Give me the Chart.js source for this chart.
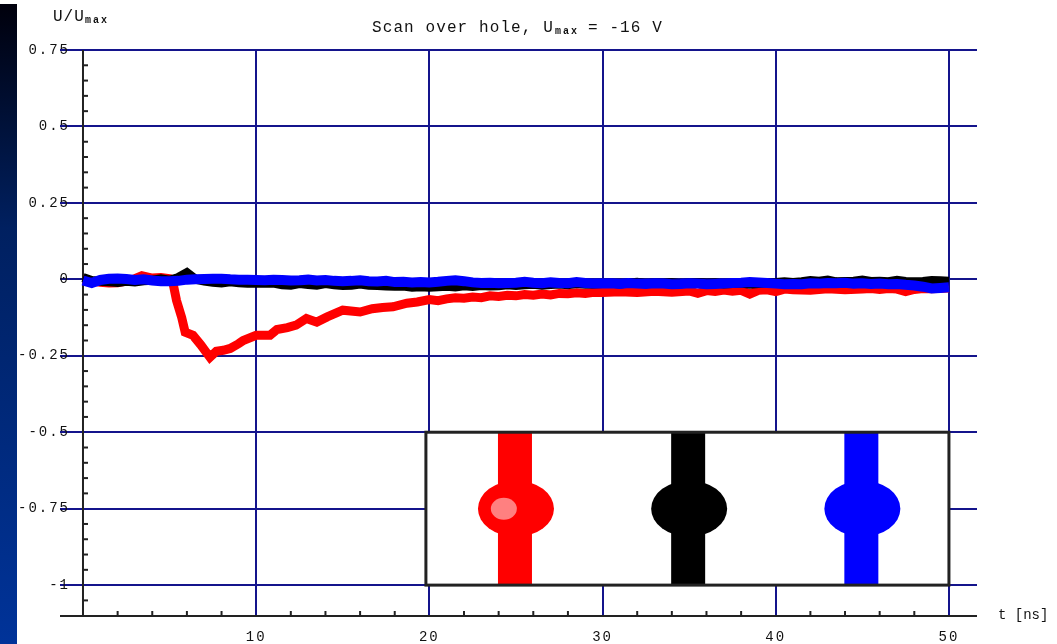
<!DOCTYPE html>
<html>
<head>
<meta charset="utf-8">
<title>Scan over hole</title>
<script src="https://cdn.jsdelivr.net/npm/chart.js@4"></script>
<style>
  html, body { margin: 0; padding: 0; background: #fff; overflow: hidden; }
  #stripe { position: absolute; left: 0; top: 4px; width: 17px; height: 640px;
    background: linear-gradient(#00000c, #002060 35%, #003399 100%); }
  canvas { position: absolute; left: 0; top: 0; filter: blur(0.5px); }
</style>
</head>
<body>
<canvas id="scan" width="1057" height="644"></canvas>
<div id="stripe"></div>
<script>
// values
const timeNs = [0,0.5,1,1.5,2,2.5,3,3.5,4,4.5,5,5.5,6,6.5,7,7.5,8,8.5,9,9.5,10,10.5,11,11.5,12,12.5,13,13.5,14,14.5,15,15.5,16,16.5,17,17.5,18,18.5,19,19.5,20,20.5,21,21.5,22,22.5,23,23.5,24,24.5,25,25.5,26,26.5,27,27.5,28,28.5,29,29.5,30,30.5,31,31.5,32,32.5,33,33.5,34,34.5,35,35.5,36,36.5,37,37.5,38,38.5,39,39.5,40,40.5,41,41.5,42,42.5,43,43.5,44,44.5,45,45.5,46,46.5,47,47.5,48,48.5,49,49.5,50];

const blackU = [0.006,-0.004,-0.006,-0.008,-0.010,-0.006,-0.009,-0.005,-0.003,0.002,-0.003,0.006,0.022,0.000,-0.006,-0.010,-0.012,-0.008,-0.011,-0.013,-0.012,-0.013,-0.012,-0.018,-0.019,-0.014,-0.017,-0.019,-0.014,-0.018,-0.020,-0.019,-0.015,-0.019,-0.020,-0.022,-0.023,-0.022,-0.026,-0.024,-0.026,-0.024,-0.023,-0.025,-0.021,-0.023,-0.020,-0.022,-0.021,-0.018,-0.020,-0.018,-0.016,-0.019,-0.017,-0.015,-0.018,-0.014,-0.016,-0.015,-0.014,-0.013,-0.015,-0.012,-0.010,-0.014,-0.012,-0.013,-0.011,-0.014,-0.012,-0.010,-0.013,-0.012,-0.015,-0.014,-0.012,-0.016,-0.014,-0.011,-0.010,-0.008,-0.010,-0.008,-0.004,-0.006,-0.002,-0.008,-0.007,-0.006,-0.002,-0.007,-0.006,-0.008,-0.003,-0.007,-0.008,-0.007,-0.004,-0.005,-0.006];

const blueU = [-0.004,-0.012,-0.002,0.002,0.003,0.001,-0.002,0.000,-0.004,-0.006,-0.006,-0.005,-0.001,0.000,0.001,0.002,0.002,0.000,-0.001,-0.001,-0.002,-0.003,-0.001,-0.002,-0.004,-0.003,-0.001,-0.004,-0.002,-0.005,-0.006,-0.005,-0.003,-0.006,-0.007,-0.005,-0.009,-0.008,-0.010,-0.009,-0.010,-0.008,-0.005,-0.003,-0.006,-0.010,-0.012,-0.011,-0.013,-0.012,-0.011,-0.008,-0.011,-0.013,-0.010,-0.012,-0.013,-0.009,-0.012,-0.014,-0.014,-0.013,-0.015,-0.012,-0.014,-0.015,-0.013,-0.014,-0.016,-0.015,-0.013,-0.014,-0.016,-0.015,-0.014,-0.012,-0.011,-0.009,-0.010,-0.012,-0.014,-0.016,-0.015,-0.016,-0.013,-0.014,-0.012,-0.013,-0.011,-0.014,-0.013,-0.015,-0.014,-0.016,-0.015,-0.018,-0.020,-0.024,-0.030,-0.028,-0.026];

const redTime = [0,0.5,1,1.5,2,2.5,3,3.4,4,4.5,5,5.2,5.4,5.7,5.9,6.35,6.8,7.33,7.7,8.1,8.5,9,9.25,10,10.8,11.2,11.8,12.3,12.9,13.5,14.1,15,16,16.7,17.3,17.9,18.7,19.3,20,20.5,21,21.5,22,22.5,23,23.5,24,24.5,25,25.5,26,26.5,27,27.5,28,28.5,29,29.5,30,31,32,33,34,35,35.5,36,36.5,37,37.5,38,38.5,39,39.5,40,40.5,41,42,43,44,45,45.5,46,46.5,47,47.5,48,48.5,49,50];
const redU = [0.000,-0.006,-0.010,-0.012,-0.011,-0.006,0.002,0.012,0.004,0.006,0.002,-0.013,-0.069,-0.125,-0.173,-0.183,-0.214,-0.255,-0.235,-0.232,-0.226,-0.210,-0.200,-0.183,-0.183,-0.164,-0.158,-0.150,-0.128,-0.140,-0.123,-0.101,-0.107,-0.096,-0.092,-0.090,-0.078,-0.074,-0.066,-0.070,-0.064,-0.060,-0.062,-0.058,-0.060,-0.054,-0.056,-0.052,-0.054,-0.050,-0.052,-0.048,-0.051,-0.046,-0.047,-0.044,-0.046,-0.042,-0.043,-0.041,-0.043,-0.039,-0.042,-0.038,-0.046,-0.037,-0.040,-0.035,-0.039,-0.036,-0.048,-0.036,-0.034,-0.040,-0.032,-0.034,-0.036,-0.031,-0.034,-0.032,-0.030,-0.033,-0.030,-0.032,-0.040,-0.033,-0.030,-0.031,-0.028];

const xTicks = [10,20,30,40,50];
const xMinorTicks = [2,4,6,8,12,14,16,18,22,24,26,28,32,34,36,38,42,44,46,48];
const yTicks = [0.75,0.5,0.25,0,-0.25,-0.5,-0.75,-1];
const yTickLabels = ["0.75","0.5","0.25","0","-0.25","-0.5","-0.75","-1"];
const yMinorTicks = [0.7,0.65,0.6,0.55,0.45,0.4,0.35,0.3,0.2,0.15,0.1,0.05,-0.05,-0.1,-0.15,-0.2,-0.3,-0.35,-0.4,-0.45,-0.55,-0.6,-0.65,-0.7,-0.8,-0.85,-0.9,-0.95,-1.05];

// inset: the three scan positions over the hole
const insetBox = { left: 19.8, right: 50, top: -0.5, bottom: -1 };
const holeTimes = [25, 35, 45];
const holeColors = ["#ff0000", "#000000", "#0000ff"];

const monoFont = '"Liberation Mono", monospace';
const gridColor = "#14148c";
const axisColor = "#222222";

function line(ctx, x1, y1, x2, y2) {
  ctx.beginPath();
  ctx.moveTo(x1, y1);
  ctx.lineTo(x2, y2);
  ctx.stroke();
}

const textSpacing = {
  id: "textSpacing",
  beforeDraw(chart) {
    chart.ctx.letterSpacing = "2px";
  },
};

const axesAndInset = {
  id: "axesAndInset",
  beforeDatasetsDraw(chart) {
    const { ctx, scales: { x, y }, chartArea: area } = chart;
    const x0 = x.getPixelForValue(0);
    ctx.save();
    ctx.strokeStyle = axisColor;
    ctx.lineWidth = 2;
    line(ctx, x0, area.top, x0, area.bottom);
    line(ctx, area.left - 10, area.bottom, area.right, area.bottom);
    xMinorTicks.forEach((t) => {
      const px = x.getPixelForValue(t);
      line(ctx, px, area.bottom, px, area.bottom - 5);
    });
    yMinorTicks.forEach((v) => {
      const py = y.getPixelForValue(v);
      line(ctx, x0, py, x0 + 5, py);
    });
    ctx.restore();
  },
  afterDatasetsDraw(chart) {
    const { ctx, scales: { x, y } } = chart;
    const left = x.getPixelForValue(insetBox.left);
    const right = x.getPixelForValue(insetBox.right);
    const top = y.getPixelForValue(insetBox.top);
    const bottom = y.getPixelForValue(insetBox.bottom);
    const midY = y.getPixelForValue(-0.75);
    ctx.save();
    ctx.fillStyle = "#ffffff";
    ctx.fillRect(left, top, right - left, bottom - top);
    holeTimes.forEach((t, i) => {
      const cx = x.getPixelForValue(t);
      ctx.fillStyle = holeColors[i];
      ctx.fillRect(cx - 18, top, 34, bottom - top);
      ctx.beginPath();
      ctx.ellipse(cx, midY, 38, 28, 0, 0, Math.PI * 2);
      ctx.fill();
    });
    // the spot on the red one is off-centre
    ctx.fillStyle = "#ff8080";
    ctx.beginPath();
    ctx.ellipse(x.getPixelForValue(24.3), midY, 13, 11, 0, 0, Math.PI * 2);
    ctx.fill();
    ctx.strokeStyle = axisColor;
    ctx.lineWidth = 3;
    ctx.strokeRect(left, top, right - left, bottom - top);
    ctx.restore();
  },
  afterDraw(chart) {
    const { ctx } = chart;
    ctx.save();
    ctx.fillStyle = "#111111";
    ctx.textAlign = "left";
    ctx.textBaseline = "alphabetic";
    // title
    ctx.font = "16px " + monoFont;
    ctx.letterSpacing = "1.1px";
    ctx.fillText("Scan over hole, U", 372, 32);
    ctx.fillText("= -16 V", 588, 32);
    ctx.font = "bold 10px " + monoFont;
    ctx.letterSpacing = "2px";
    ctx.fillText("max", 555, 34);
    // y axis name
    ctx.font = "16px " + monoFont;
    ctx.letterSpacing = "1px";
    ctx.fillText("U/U", 53, 21);
    ctx.font = "bold 10px " + monoFont;
    ctx.letterSpacing = "2px";
    ctx.fillText("max", 85, 23);
    // x axis name
    ctx.font = "14px " + monoFont;
    ctx.letterSpacing = "0px";
    ctx.fillText("t [ns]", 998, 619);
    ctx.restore();
  },
};

new Chart(document.getElementById("scan"), {
  type: "line",
  data: {
    datasets: [
      { label: "red", order: 2, data: redTime.map((t, i) => ({ x: t, y: redU[i] })), borderColor: "#ff0000", borderWidth: 9 },
      { label: "black", order: 1, data: timeNs.map((t, i) => ({ x: t, y: blackU[i] })), borderColor: "#000000", borderWidth: 9 },
      { label: "blue", order: 0, data: timeNs.map((t, i) => ({ x: t, y: blueU[i] })), borderColor: "#0000ff", borderWidth: 10 },
    ],
  },
  options: {
    responsive: false,
    animation: false,
    layout: { padding: { top: 50, right: 80, left: 0, bottom: 0 } },
    elements: { point: { radius: 0 }, line: { tension: 0, borderJoinStyle: "miter" } },
    plugins: { legend: { display: false }, title: { display: false }, tooltip: { enabled: false } },
    scales: {
      x: {
        type: "linear",
        min: -0.75,
        max: 51.62,
        afterFit(scale) { scale.height = 28; },
        afterBuildTicks(scale) { scale.ticks = xTicks.map((v) => ({ value: v })); },
        border: { display: false },
        grid: { color: gridColor, lineWidth: 2, drawTicks: false },
        ticks: {
          autoSkip: false,
          maxRotation: 0,
          padding: 13,
          color: "#111111",
          font: { family: monoFont, size: 14 },
        },
      },
      y: {
        type: "linear",
        min: -1.101,
        max: 0.75,
        afterFit(scale) { scale.width = 70; },
        afterBuildTicks(scale) { scale.ticks = yTicks.map((v) => ({ value: v })); },
        border: { display: false },
        grid: { color: gridColor, lineWidth: 2, tickLength: 10 },
        ticks: {
          autoSkip: false,
          padding: -10,
          color: "#111111",
          font: { family: monoFont, size: 14 },
          callback(value) { return yTickLabels[yTicks.indexOf(value)]; },
        },
      },
    },
  },
  plugins: [textSpacing, axesAndInset],
});
</script>
</body>
</html>
